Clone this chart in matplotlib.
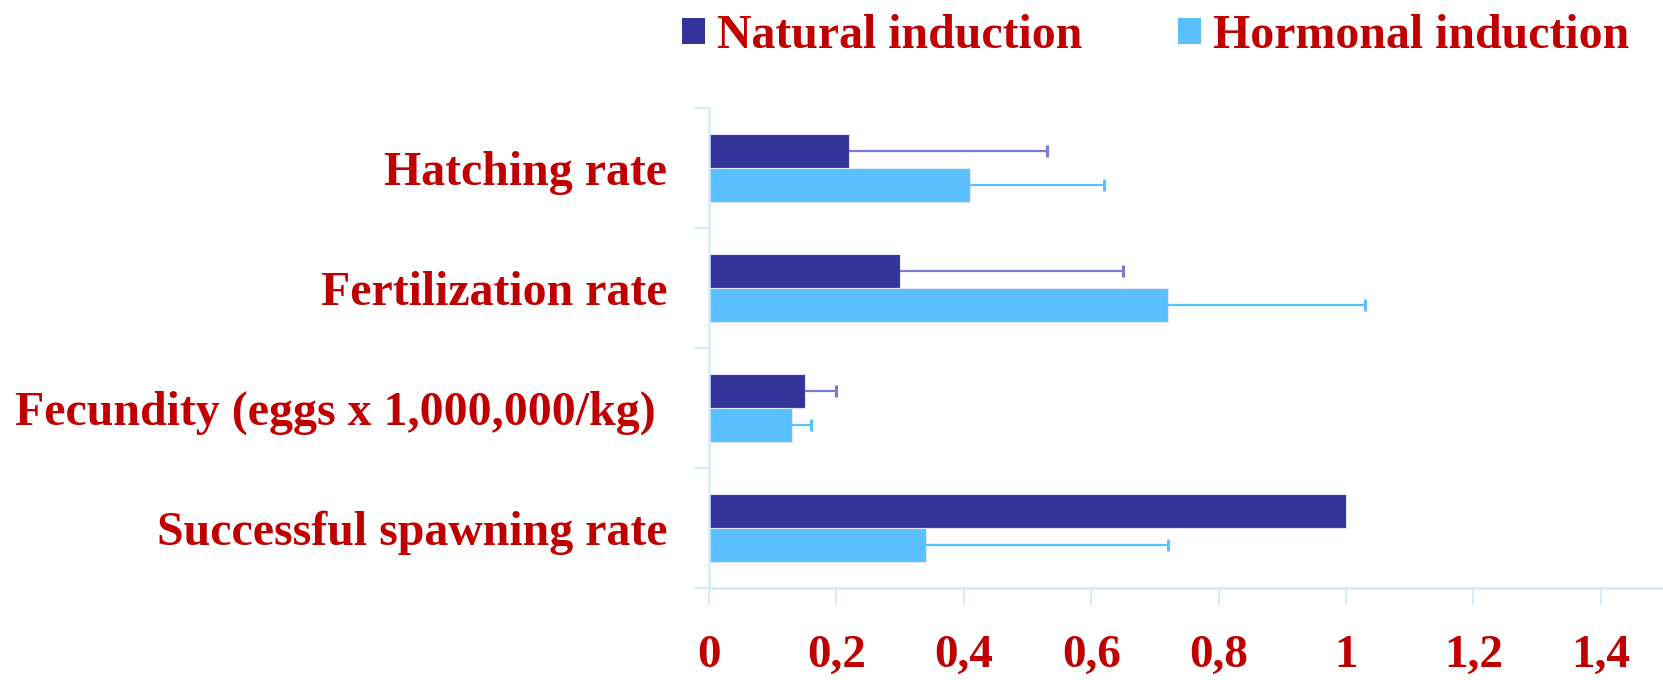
import numpy as np
import matplotlib
matplotlib.use("Agg")
import matplotlib.pyplot as plt
from matplotlib.patches import Patch

categories = ["Successful spawning rate", "Fecundity (eggs x 1,000,000/kg) ",
              "Fertilization rate", "Hatching rate"]
natural = [1.0, 0.15, 0.30, 0.22]
natural_err = [np.nan, 0.05, 0.35, 0.31]
hormonal = [0.34, 0.13, 0.72, 0.41]
hormonal_err = [0.38, 0.03, 0.31, 0.21]
xticks = [0, 0.2, 0.4, 0.6, 0.8, 1.0, 1.2, 1.4]
xtick_labels = ["0", "0,2", "0,4", "0,6", "0,8", "1", "1,2", "1,4"]
series_names = ["Natural induction", "Hormonal induction"]

c_nat = "#333399"
c_hor = "#5BC0FF"
c_nat_err = "#7B7BD6"
c_text = "#C00000"
c_axis = "#D6EAF8"
font = "Liberation Serif"
fs = 34.5
fs_tick = 34

fig = plt.figure(figsize=(16.63, 6.80), dpi=100)
ax = fig.add_axes([709 / 1663, 92 / 680, 955.5 / 1663, 480 / 680])

y = np.arange(len(categories))
h = 0.283
ax.barh(y + h / 2, natural, height=h, color=c_nat, edgecolor="#dde6f5", linewidth=0.8, zorder=2)
ax.barh(y - h / 2, hormonal, height=h, color=c_hor, edgecolor="#dde6f5", linewidth=0.8, zorder=2)

nat = np.array(natural); ne = np.array(natural_err)
hor = np.array(hormonal); he = np.array(hormonal_err)
m = ~np.isnan(ne)
eb1 = ax.errorbar(nat[m], (y + h / 2)[m], xerr=[np.zeros(m.sum()), ne[m]], fmt="none",
                  ecolor=c_nat_err, elinewidth=1.6, capsize=4.3, capthick=2.2, zorder=3)
m2 = ~np.isnan(he)
eb2 = ax.errorbar(hor[m2], (y - h / 2)[m2], xerr=[np.zeros(m2.sum()), he[m2]], fmt="none",
                  ecolor=c_hor, elinewidth=1.6, capsize=4.3, capthick=2.2, zorder=3)
for eb in (eb1, eb2):
    eb[1][0].set_visible(False)

ax.set_xlim(0, 1.5)
ax.set_ylim(-0.5, len(categories) - 0.5)
ax.set_xticks(xticks)
ax.set_xticklabels(xtick_labels, fontfamily=font, fontweight="bold", fontsize=fs_tick, color=c_text)
ax.set_yticks(np.arange(len(categories) + 1) - 0.5)
ax.set_yticklabels([])
ax.set_yticks(y, minor=True)
ax.set_yticklabels(categories, minor=True, fontfamily=font, fontweight="bold",
                   fontsize=fs, color=c_text)
ax.tick_params(axis="y", which="minor", length=0, pad=30)
ax.tick_params(axis="y", which="major", length=11, width=1.5, color=c_axis, direction="out")
ax.tick_params(axis="x", which="major", length=12, width=1.5, color=c_axis, direction="out", pad=22)

for s in ["top", "right"]:
    ax.spines[s].set_visible(False)
for s in ["left", "bottom"]:
    ax.spines[s].set_color(c_axis)
    ax.spines[s].set_linewidth(1.8)

handles = [Patch(facecolor=c_nat), Patch(facecolor=c_hor)]
leg = fig.legend(handles, series_names, loc="upper left", bbox_to_anchor=(682 / 1663, 1 - 14 / 680),
                 ncol=2, frameon=False, handlelength=0.48, handleheight=0.48,
                 handletextpad=0.25, columnspacing=2.0, borderpad=0.0, borderaxespad=0.0,
                 prop={"family": font, "weight": "bold", "size": fs})
for t in leg.get_texts():
    t.set_color(c_text)

fig.savefig("out.png", dpi=100)
